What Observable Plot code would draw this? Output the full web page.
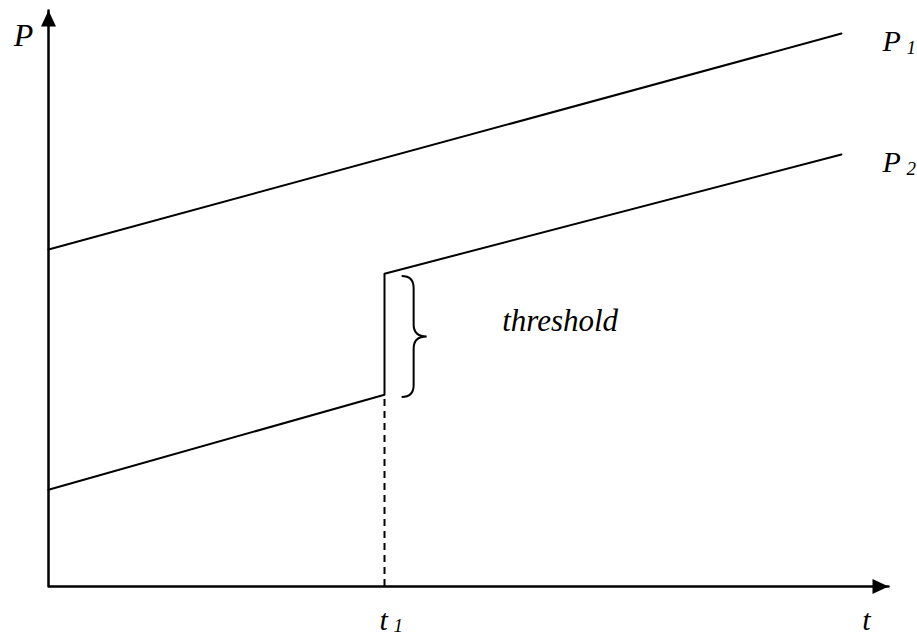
<!DOCTYPE html>
<html>
<head>
<meta charset="utf-8">
<script src="https://cdn.jsdelivr.net/npm/d3@7"></script>
<script src="https://cdn.jsdelivr.net/npm/@observablehq/plot@0.6"></script>
<style>
  html, body { margin: 0; padding: 0; background: #fff; }
</style>
</head>
<body>
<div id="chart"></div>
<script>
// ---- data (chart units: t and P on 0..100 axes) ----
const axisT = [0, 0, 100];
const axisP = [100, 0, 0];
const p1T = [0, 94.4];
const p1P = [58.5, 96.0];
const p2T = [0, 40, 40, 94.4];
const p2P = [16.8, 33.3, 54.3, 75.0];
const t1 = 40;
const braceT = 42.1;
const braceP = [32.8, 53.8];
const seriesLabels = ["P", "P"];
const seriesSubs = ["1", "2"];
const thresholdLabel = "threshold";

const axisPts = axisT.map((t, i) => ({t, P: axisP[i]}));
const p1 = p1T.map((t, i) => ({t, P: p1P[i]}));
const p2 = p2T.map((t, i) => ({t, P: p2P[i]}));
const ends = [p1[p1.length - 1], p2[p2.length - 1]].map((d, i) => ({...d, label: seriesLabels[i], sub: seriesSubs[i]}));
const jumpBottom = p2[1];

const serif = "'Liberation Serif', 'Times New Roman', serif";

// arrowhead symbol pointing right, tip at origin
const arrowHead = {
  draw(context) {
    context.moveTo(0, 0);
    context.lineTo(-16, -7.5);
    context.lineTo(-16, 7.5);
    context.closePath();
  }
};

// brace drawn through the plot's scales
function brace(index, scales) {
  const x0 = scales.x(braceT);
  const yT = scales.y(braceP[1]);
  const yB = scales.y(braceP[0]);
  const yM = (yT + yB) / 2;
  const x1 = x0 + 12, x2 = x0 + 25, r = 12;
  const p = d3.path();
  p.moveTo(x0, yT);
  p.quadraticCurveTo(x1, yT, x1, yT + r);
  p.lineTo(x1, yM - r);
  p.quadraticCurveTo(x1, yM, x2, yM);
  p.quadraticCurveTo(x1, yM, x1, yM + r);
  p.lineTo(x1, yB - r);
  p.quadraticCurveTo(x1, yB, x0, yB);
  return d3.create("svg:path")
    .attr("d", p.toString())
    .attr("fill", "none")
    .attr("stroke", "black")
    .attr("stroke-width", 2)
    .node();
}

const chart = Plot.plot({
  width: 917,
  height: 635,
  marginLeft: 48,
  marginRight: 29,
  marginTop: 10,
  marginBottom: 49,
  x: {domain: [0, 100], axis: null},
  y: {domain: [0, 100], axis: null},
  style: {background: "white", overflow: "visible"},
  marks: [
    // dashed drop line at t1
    Plot.ruleX([jumpBottom], {x: "t", y1: 0, y2: "P", stroke: "black", strokeWidth: 2, strokeDasharray: "7,5"}),
    // axes
    Plot.line(axisPts, {x: "t", y: "P", stroke: "black", strokeWidth: 2.5}),
    Plot.dot([axisPts[0]], {x: "t", y: "P", symbol: arrowHead, fill: "black", stroke: null, rotate: -90}),
    Plot.dot([axisPts[2]], {x: "t", y: "P", symbol: arrowHead, fill: "black", stroke: null}),
    // series
    Plot.line(p1, {x: "t", y: "P", stroke: "black", strokeWidth: 2}),
    Plot.line(p2, {x: "t", y: "P", stroke: "black", strokeWidth: 2}),
    brace,
    // labels
    Plot.text([axisPts[0]], {x: "t", y: "P", text: () => "P", dx: -25, dy: 35, textAnchor: "middle", lineAnchor: "bottom",
      fontFamily: serif, fontStyle: "italic", fontSize: 32, fill: "black"}),
    Plot.text(ends, {x: "t", y: "P", text: "label", dx: 41, dy: 17, textAnchor: "start", lineAnchor: "bottom",
      fontFamily: serif, fontStyle: "italic", fontSize: 30, fill: "black"}),
    Plot.text(ends, {x: "t", y: "P", text: "sub", dx: 65, dy: 20, textAnchor: "start", lineAnchor: "bottom",
      fontFamily: serif, fontStyle: "italic", fontSize: 19, fill: "black"}),
    Plot.text([{t: t1, P: 0}], {x: "t", y: "P", text: () => "t", dx: -5, dy: 43, textAnchor: "start", lineAnchor: "bottom",
      fontFamily: serif, fontStyle: "italic", fontSize: 30, fill: "black"}),
    Plot.text([{t: t1, P: 0}], {x: "t", y: "P", text: () => "1", dx: 9, dy: 45, textAnchor: "start", lineAnchor: "bottom",
      fontFamily: serif, fontStyle: "italic", fontSize: 19, fill: "black"}),
    Plot.text([axisPts[2]], {x: "t", y: "P", text: () => "t", dx: -22, dy: 43, textAnchor: "middle", lineAnchor: "bottom",
      fontFamily: serif, fontStyle: "italic", fontSize: 30, fill: "black"}),
    Plot.text([{t: braceT, P: (braceP[0] + braceP[1]) / 2}], {x: "t", y: "P", text: () => thresholdLabel, dx: 100, dy: -6,
      textAnchor: "start", lineAnchor: "bottom", fontFamily: serif, fontStyle: "italic", fontSize: 31, fill: "black"})
  ]
});

document.getElementById("chart").append(chart);
</script>
</body>
</html>
